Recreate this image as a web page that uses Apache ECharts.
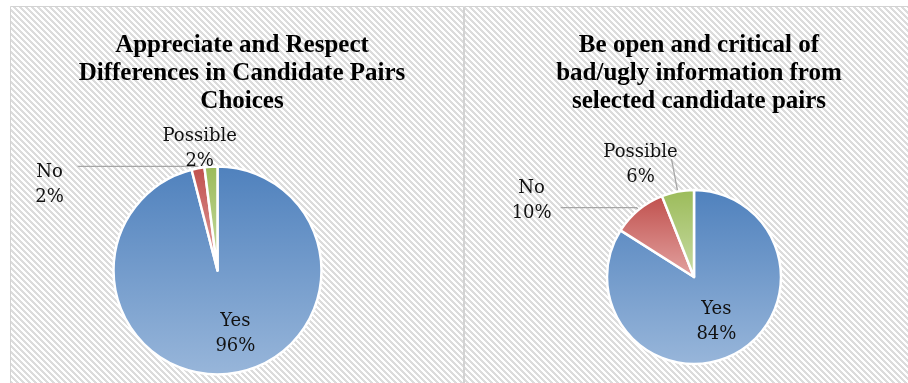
<!DOCTYPE html>
<html>
<head>
<meta charset="utf-8">
<script src="https://cdn.jsdelivr.net/npm/echarts@6/dist/echarts.min.js"></script>
<style>
  html, body { margin: 0; padding: 0; background: #ffffff; }
  #chart { width: 908px; height: 383px; }
</style>
</head>
<body>
<div id="chart"></div>
<script>
// Survey answers, one pie per question
const categories = ['Yes', 'No', 'Possible'];
const respectValues = [96, 2, 2];
const criticalValues = [84, 10, 6];
const chartTitles = [
  'Appreciate and Respect\nDifferences in Candidate Pairs\nChoices',
  'Be open and critical of\nbad/ugly information from\nselected candidate pairs'
];

// Diagonal hatch tile used as the panel background
function hatchTile() {
  const size = 6;
  const c = document.createElement('canvas');
  c.width = size; c.height = size;
  const ctx = c.getContext('2d');
  ctx.fillStyle = '#ffffff';
  ctx.fillRect(0, 0, size, size);
  ctx.fillStyle = '#dcdcdc';
  for (let y = 0; y < size; y++) {
    for (let x = 0; x < size; x++) {
      if (((x - y) % size + size) % size < 3) ctx.fillRect(x, y, 1, 1);
    }
  }
  return c;
}
const tile = hatchTile();

function vGrad(top, bottom) {
  return new echarts.graphic.LinearGradient(0, 0, 0, 1, [
    { offset: 0, color: top },
    { offset: 1, color: bottom }
  ]);
}
const sliceFills = [
  vGrad('#4f81bd', '#98b6da'),
  vGrad('#c0504d', '#e3a3a1'),
  vGrad('#9bbb59', '#c9dca5')
];

function labelText(p) {
  return p.name + '\n' + Math.round(p.percent) + '%';
}

function pieSeries(values, center, radius, itemLabels, shifts) {
  return {
    type: 'pie',
    center: center,
    radius: radius,
    startAngle: 90,
    clockwise: true,
    avoidLabelOverlap: false,
    animation: false,
    silent: true,
    itemStyle: { borderColor: '#ffffff', borderWidth: 2.5 },
    label: {
      fontFamily: 'DejaVu Serif',
      fontSize: 18,
      lineHeight: 25,
      color: '#111111',
      formatter: labelText
    },
    labelLine: {
      smooth: false,
      lineStyle: { color: '#a6a6a6', width: 1.3 }
    },
    labelLayout: function (p) {
      const s = shifts[p.dataIndex];
      return { align: 'center', verticalAlign: 'middle', dx: s[0], dy: s[1] };
    },
    data: categories.map(function (name, i) {
      return {
        name: name,
        value: values[i],
        itemStyle: { color: sliceFills[i] },
        label: { position: itemLabels[i].position },
        labelLine: itemLabels[i].line
      };
    })
  };
}

const chart = echarts.init(document.getElementById('chart'), null, { renderer: 'canvas' });

const titleStyle = {
  fontFamily: 'Liberation Serif',
  fontWeight: 'bold',
  fontSize: 25,
  lineHeight: 28,
  color: '#000000'
};

chart.setOption({
  backgroundColor: '#ffffff',
  graphic: [
    {
      type: 'rect', z: -10,
      shape: { x: 10.5, y: 6.5, width: 453, height: 400 },
      style: { fill: { image: tile, repeat: 'repeat' }, stroke: '#d3d3d3', lineWidth: 1 }
    },
    {
      type: 'rect', z: -10,
      shape: { x: 464.5, y: 6.5, width: 460, height: 400 },
      style: { fill: { image: tile, repeat: 'repeat' }, stroke: '#d3d3d3', lineWidth: 1 }
    }
  ],
  title: [
    { text: chartTitles[0], left: 237, top: 27, textAlign: 'center', textStyle: titleStyle },
    { text: chartTitles[1], left: 694, top: 27, textAlign: 'center', textStyle: titleStyle }
  ],
  series: [
    pieSeries(respectValues, [217.5, 270.5], 104,
      [
        { position: 'inside', line: { show: false } },
        { position: 'outside', line: { show: true, length: 2, length2: 120 } },
        { position: 'outside', line: { show: false, length: 5, length2: 0 } }
      ],
      [[11, 9], [-23, 18], [-6, -13]]
    ),
    pieSeries(criticalValues, [694, 277], 87,
      [
        { position: 'inside', line: { show: false } },
        { position: 'outside', line: { show: true, length: 3, length2: 76 } },
        { position: 'outside', line: { show: true, length: 33, length2: 0 } }
      ],
      [[0, 4], [-24, -7], [-26, 6]]
    )
  ]
});
</script>
</body>
</html>
